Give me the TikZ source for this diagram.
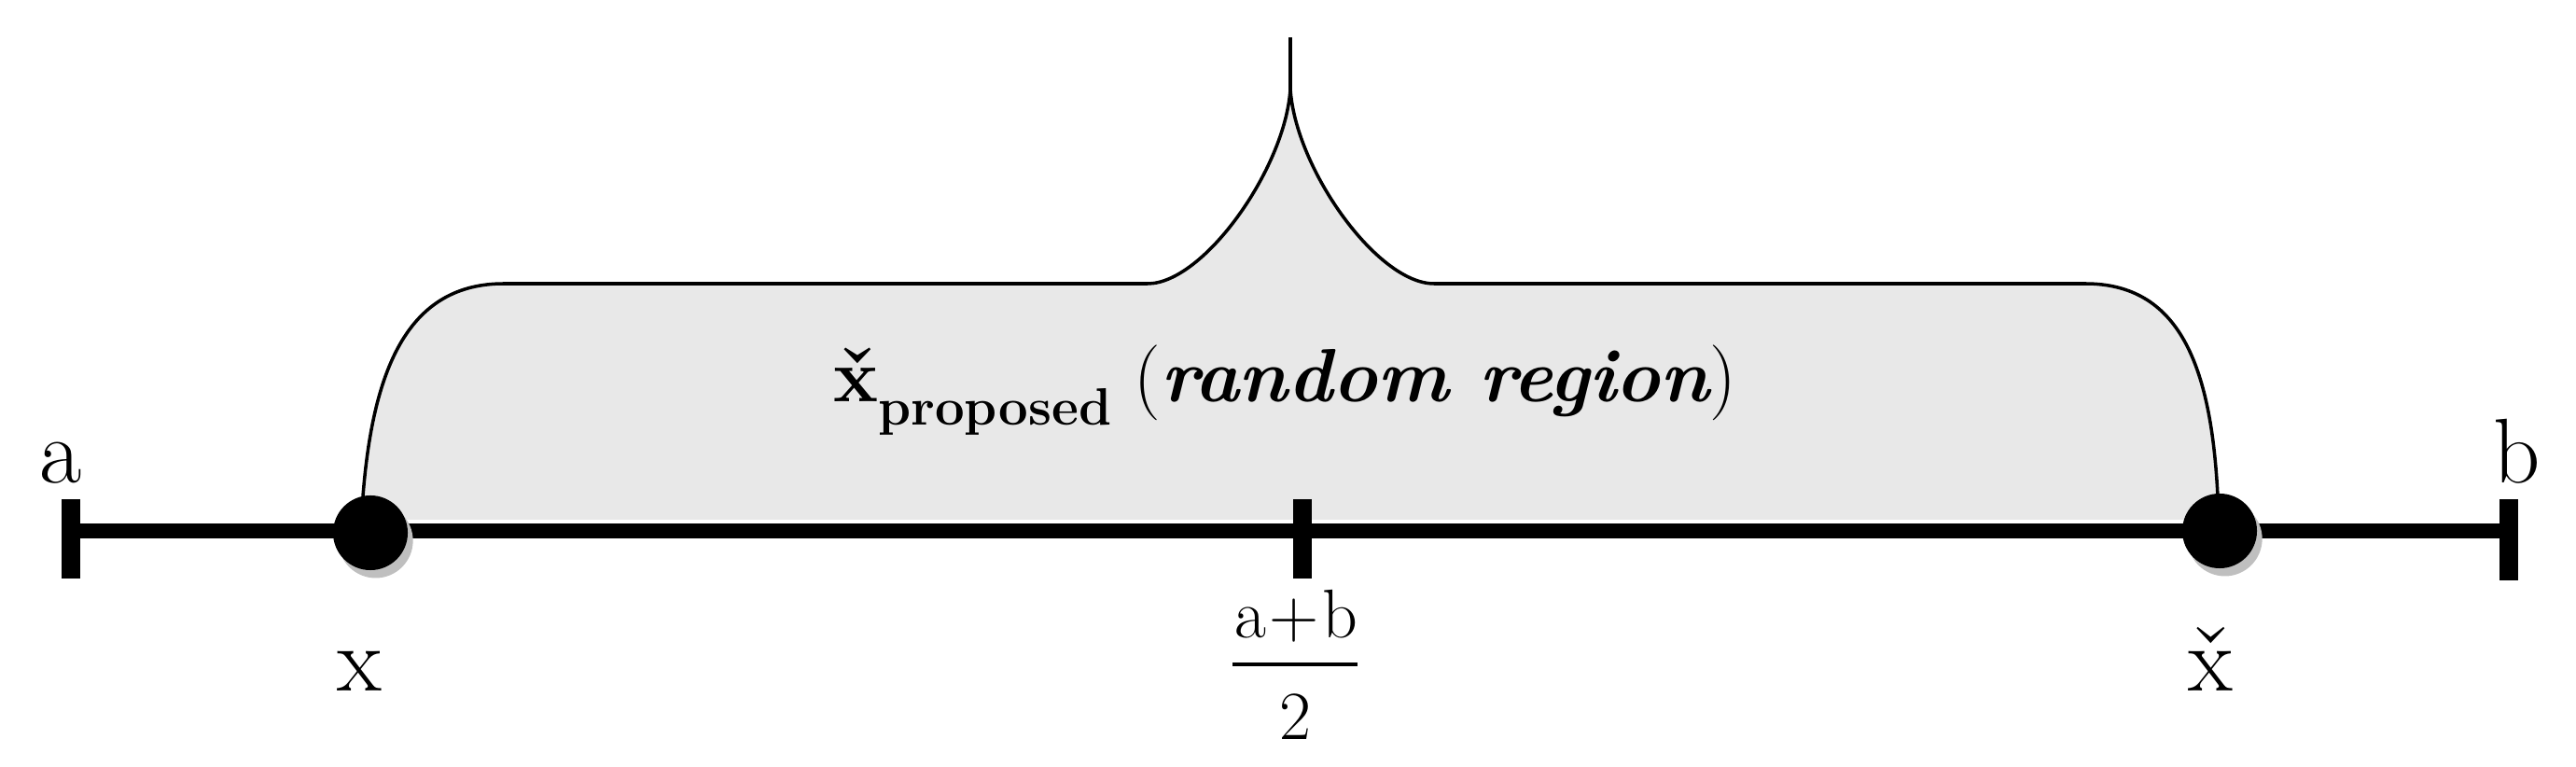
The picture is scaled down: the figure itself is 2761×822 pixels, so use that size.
\documentclass[tikz,border=0pt]{standalone}
\usepackage{fontspec}
\setmainfont{Latin Modern Roman}
\usetikzlibrary{shadows}
\begin{document}
\begin{tikzpicture}[x=0.01cm,y=-0.01cm,
  axisline/.style={line width=4.6pt},
  tickmark/.style={line width=5.6pt},
  bracefill/.style={fill=black!9},
  bracestroke/.style={line width=1pt},
  dotnode/.style={circle, fill=black, minimum size=0.8cm, inner sep=0pt,
    drop shadow={opacity=1, fill=black!25, shadow xshift=1.6pt, shadow yshift=-2.4pt}},
  biglabel/.style={anchor=base, inner sep=0pt, font=\fontsize{28}{34}\selectfont},
  fraclabel/.style={anchor=base, inner sep=0pt, font=\fontsize{21}{25}\selectfont},
  maintext/.style={anchor=base, inner sep=0pt, font=\fontsize{23}{28}\selectfont}]
\useasboundingbox (0,0) rectangle (2761,822);
% region under the brace
\fill[bracefill] (389,532) .. controls (400,390) and (440,304) .. (540,304)
  -- (1230,304) .. controls (1290,304) and (1378,180) .. (1383,95)
  .. controls (1388,180) and (1476,304) .. (1537,304)
  -- (2235,304) .. controls (2335,304) and (2370,390) .. (2377,532)
  -- (2377,557) -- (389,557) -- cycle;
% brace outline
\draw[bracestroke] (389,532) .. controls (400,390) and (440,304) .. (540,304)
  -- (1230,304) .. controls (1290,304) and (1378,180) .. (1383,95)
  .. controls (1388,180) and (1476,304) .. (1537,304)
  -- (2235,304) .. controls (2335,304) and (2370,390) .. (2377,532);
\draw[bracestroke] (1383,95) -- (1383,40);
% axis
\coordinate (A) at (76,569);
\coordinate (B) at (2689,569);
\coordinate (M) at (1396,569);
\draw[axisline] (A) -- (B);
\draw[tickmark] (76,535) -- (76,620);
\draw[tickmark] (2689,535) -- (2689,622);
\draw[tickmark] (1396,535) -- (1396,620);
% points
\node[dotnode] (dx) at (397,571) {};
\node[dotnode] (dxc) at (2379,569) {};
% labels
\node[biglabel] (la) at (65,518) {a};
\node[biglabel] (lb) at (2698,518) {b};
\node[biglabel] (lx) at (385,740) {x};
\node[biglabel] (lxc) at (2369,740) {\v{x}};
\node[fraclabel] (fnum) at (1389,683) {a{\kern1pt}+{\kern1pt}b};
\node[fraclabel] (fden) at (1388,792) {2};
\draw[line width=1.4pt] (1321,712) -- (1455,712);
\node[maintext] (region) at (1377,431)
  {{\bfseries\v{x}}\raisebox{-0.3em}{\fontsize{16}{18}\selectfont\bfseries proposed}\hspace{0.3em}({\bfseries\itshape random region})};
\end{tikzpicture}
\end{document}
